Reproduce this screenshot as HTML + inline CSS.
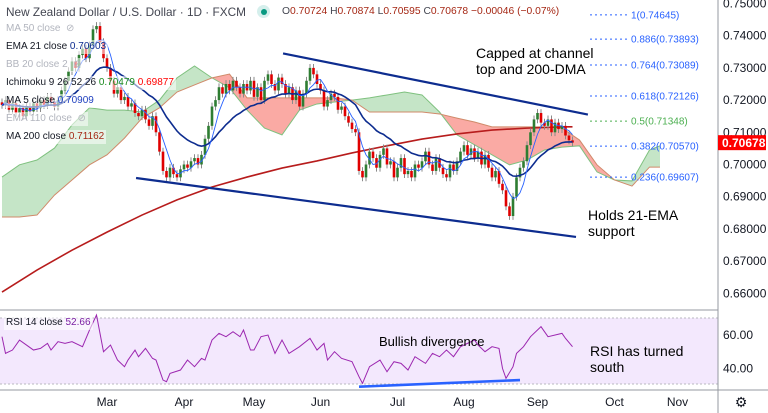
<!DOCTYPE html>
<html><head><meta charset="utf-8"><style>
body{margin:0;background:#fff;font-family:"Liberation Sans",sans-serif;}
#wrap{position:relative;width:768px;height:413px;overflow:hidden;background:#fff}
svg{position:absolute;left:0;top:0}
.lg{position:absolute;left:4px;font-size:10px;color:#131722;white-space:nowrap;background:rgba(255,255,255,0.55);padding:0 2px;line-height:14px}
.fade{color:#b2b5be}
.ann{position:absolute;font-size:14px;color:#000;line-height:16px;white-space:nowrap}
</style></head><body>
<div id="wrap">
<svg id="c" width="768" height="413"></svg>
<div class="lg" style="top:5px;font-size:11.8px;color:#434651;background:none">New Zealand Dollar / U.S. Dollar · 1D · FXCM</div>
<div style="position:absolute;left:257px;top:5px;width:13px;height:13px;border-radius:50%;background:#d5efec"><div style="margin:3.5px;width:6px;height:6px;border-radius:50%;background:#089981"></div></div>
<div class="lg" style="top:5px;left:280px;font-size:10.3px;background:none;color:#a52714"><span style="color:#434651">O</span>0.70724 <span style="color:#434651">H</span>0.70874 <span style="color:#434651">L</span>0.70595 <span style="color:#434651">C</span>0.70678 −0.00046 (−0.07%)</div>
<div class="lg fade" style="top:22px">MA 50 close &nbsp;⊘</div>
<div class="lg" style="top:40px">EMA 21 close <span style="color:#0d2c8f">0.70603</span></div>
<div class="lg fade" style="top:58px">BB 20 close 2 &nbsp;⊘</div>
<div class="lg" style="top:76px">Ichimoku 9 26 52 26 <span style="color:#1b8a1f">0.70479</span> <span style="color:#f00">0.69877</span></div>
<div class="lg" style="top:94px">MA 5 close <span style="color:#1e3fbf">0.70909</span></div>
<div class="lg fade" style="top:112px">EMA 110 close &nbsp;⊘</div>
<div class="lg" style="top:130px">MA 200 close <span style="color:#a52714">0.71162</span></div>
<div class="ann" style="left:476px;top:45px">Capped at channel<br>top and 200-DMA</div>
<div class="ann" style="left:588px;top:207px">Holds 21-EMA<br>support</div>
<div class="ann" style="left:379px;top:334px;font-size:13px">Bullish divergence</div>
<div class="ann" style="left:590px;top:343px">RSI has turned<br>south</div>
<div class="lg" style="top:316px;left:4px">RSI 14 close <span style="color:#7b1fa2">52.66</span></div>
</div>
<script>
const closes=[0.7185,0.7200,0.7170,0.7190,0.7160,0.7175,0.7150,0.7180,0.7165,0.7190,
0.7175,0.7200,0.7185,0.7210,0.7195,0.7180,0.7200,0.7230,0.7260,0.7290,
0.7320,0.7300,0.7340,0.7360,0.7330,0.7370,0.7420,0.7430,0.7380,0.7330,
0.7300,0.7260,0.7220,0.7240,0.7200,0.7210,0.7180,0.7190,0.7160,0.7150,
0.7170,0.7140,0.7120,0.7150,0.7100,0.7040,0.6980,0.6960,0.6990,0.6970,
0.6960,0.6985,0.7000,0.6990,0.7010,0.7020,0.7000,0.7030,0.7080,0.7120,
0.7180,0.7200,0.7240,0.7220,0.7250,0.7230,0.7260,0.7240,0.7220,0.7250,
0.7230,0.7260,0.7210,0.7240,0.7200,0.7260,0.7280,0.7250,0.7230,0.7270,
0.7250,0.7220,0.7240,0.7200,0.7230,0.7180,0.7220,0.7260,0.7300,0.7280,
0.7250,0.7230,0.7180,0.7200,0.7220,0.7210,0.7170,0.7180,0.7150,0.7130,
0.7110,0.7100,0.6980,0.6960,0.7000,0.7040,0.7020,0.6990,0.7030,0.7050,
0.7000,0.7010,0.6960,0.6990,0.7020,0.6970,0.6980,0.6960,0.7000,0.6990,
0.7010,0.7040,0.7000,0.6980,0.7020,0.6990,0.6970,0.6960,0.7000,0.6980,
0.7010,0.7040,0.7060,0.7030,0.7050,0.7020,0.7040,0.7000,0.7030,0.6990,
0.6960,0.6980,0.6940,0.6920,0.6870,0.6840,0.6900,0.6960,0.6990,0.7010,
0.7060,0.7100,0.7140,0.7160,0.7130,0.7120,0.7140,0.7100,0.7130,0.7110,
0.7120,0.7090,0.7075,0.7068];
const spanA=[0.6961,0.6999,0.7014,0.7051,0.7123,0.7176,0.7169,0.7169,0.7163,0.7200,0.7269,0.7306,0.7269,0.7238,0.7169,0.7113,0.7092,0.7169,0.7188,0.7194,0.7200,0.7207,0.7216,0.7225,0.7216,0.7163,0.7092,0.7061,0.7030,0.6999,0.7014,0.7045,0.7054,0.7058,0.6977,0.6952,0.6949,0.7045,0.7058];
const spanB=[0.6837,0.6837,0.6843,0.6905,0.6952,0.6999,0.7030,0.7082,0.7144,0.7176,0.7225,0.7247,0.7269,0.7281,0.7207,0.7207,0.7207,0.7207,0.7207,0.7207,0.7200,0.7163,0.7163,0.7163,0.7163,0.7157,0.7144,0.7132,0.7117,0.7117,0.7117,0.7117,0.7113,0.7076,0.6999,0.6952,0.6933,0.6992,0.6992];
const ma200=[0.6604,0.6672,0.6734,0.6790,0.6843,0.6890,0.6930,0.6961,0.6989,0.7011,0.7036,0.7058,0.7079,0.7095,0.7107,0.7113,0.7117,0.7117];
const rsiBars=[0,1,3,5,7,9,11,13,14,16,18,20,23,25,27,28,29,31,33,35,36,38,39,41,43,44,46,47,48,51,53,55,57,58,60,62,64,66,68,69,71,72,74,76,78,80,82,85,88,90,92,93,95,97,100,102,103,105,108,110,112,114,116,118,121,123,125,127,129,131,133,135,136,138,140,142,143,144,146,147,149,151,154,156,160,161,163];
const rsiVals=[59,49,51,57,54,51,52,55,51,56,55,56,53,63,72,61,50,54,45,41,45,51,47,52,46,45,33,32,37,39,45,41,46,45,57,61,59,62,59,63,51,51,59,60,49,57,49,53,58,51,55,45,50,46,44,35,31,41,45,38,44,43,39,47,43,49,47,51,47,53,55,57,54,50,53,52,40,34,41,49,53,59,65,59,61,58,53];
const priceTicks=[0.75,0.74,0.73,0.72,0.71,0.70,0.69,0.68,0.67,0.66];
const fibRatios=["1","0.886","0.764","0.618","0.5","0.382","0.236"];
const fibPrices=[0.74645,0.73893,0.73089,0.72126,0.71348,0.70570,0.69607];
const months=["Mar","Apr","May","Jun","Jul","Aug","Sep","Oct","Nov"];
const monthBars=[30,52,72,91,113,132,153,175,193];
const channelUpper=[[80.3,0.7345],[167.4,0.7155]];
const channelLower=[[38.3,0.6958],[164,0.6775]];
const divergence=[[102,29],[148,33]];
const lastPrice=0.70678;

const xI=i=>2+i*3.5, yP=p=>3.5+(0.75-p)*3220, yR=v=>351.7-(v-50)*1.667;
const svg=document.getElementById('c'),NS='http://www.w3.org/2000/svg';
function mk(t,a,parent){const e=document.createElementNS(NS,t);for(const k in a)e.setAttribute(k,a[k]);(parent||svg).appendChild(e);return e;}
const defs=mk('defs',{});const cp=mk('clipPath',{id:'mc'},defs);mk('rect',{x:0,y:0,width:718,height:310},cp);
let e=mk('rect',{x:0,y:318,width:718,height:66,fill:'#f3e8fd'});


[318,384].forEach(y=>{const l=mk('line',{x1:0,x2:718,y1:y,y2:y,stroke:'#b8b8c0','stroke-dasharray':'2,2'});

});
[[0,310,718,310],[0,390,768,390],[718,0,718,413]].forEach(s=>{const l=mk('line',{x1:s[0],y1:s[1],x2:s[2],y2:s[3],stroke:'#9598a1','stroke-width':1});

});
const g=mk('g',{'clip-path':'url(#mc)'});


const cloudX=k=>Math.min(xI(k*5),660);
for(let k=0;k<spanA.length-1;k++){
 const x0=cloudX(k),x1=cloudX(k+1);
 const up=(spanA[k]+spanA[k+1])>=(spanB[k]+spanB[k+1]);
 const p=mk('polygon',{points:`${x0},${yP(spanA[k])} ${x1},${yP(spanA[k+1])} ${x1},${yP(spanB[k+1])} ${x0},${yP(spanB[k])}`,fill:up?'rgba(76,175,80,0.32)':'rgba(244,67,54,0.45)'},g);
 
 
}
let pa=spanA.map((v,k)=>`${cloudX(k)},${yP(v)}`).join(' '),pb=spanB.map((v,k)=>`${cloudX(k)},${yP(v)}`).join(' ');
e=mk('polyline',{points:pa,fill:'none',stroke:'#7fc17f','stroke-width':1},g);


e=mk('polyline',{points:pb,fill:'none',stroke:'#d08a6a','stroke-width':1},g);


e=mk('polyline',{points:ma200.map((v,k)=>`${xI(Math.min(k*10,163))},${yP(v)}`).join(' '),fill:'none',stroke:'#b71c1c','stroke-width':1.6},g);


fibPrices.forEach((p,k)=>{const y=yP(p),c=k==4?'#4caf50':'#2962ff';
 const l=mk('line',{x1:590,x2:627,y1:y,y2:y,stroke:c,'stroke-dasharray':'2,3'},g);
 
 
 const t=mk('text',{x:631,y:y+3.5,'font-size':10,fill:c,'font-family':'Liberation Sans'});
 t.textContent=fibRatios[k]+'('+p.toFixed(5)+')';
 
 
});
closes.forEach((c,i)=>{const o=i?closes[i-1]:c+0.0008,up=c>=o,x=xI(i),col=up?'#2e7d32':'#e00000';
 const hi=Math.max(o,c)+0.0012,lo=Math.min(o,c)-0.0012;
 const w=mk('line',{x1:x,x2:x,y1:yP(hi),y2:yP(lo),stroke:'#8a8a8a','stroke-width':1},g);
 
 
 const r=mk('rect',{x:x-1.3,y:yP(Math.max(o,c)),width:2.6,height:Math.max(1,Math.abs(yP(o)-yP(c))),fill:col},g);
 
 
});
let ema=[],a=2/22;closes.forEach((c,i)=>ema.push(i?ema[i-1]+a*(c-ema[i-1]):c));
e=mk('polyline',{points:ema.map((v,i)=>`${xI(i)},${yP(v)}`).join(' '),fill:'none',stroke:'#0d2c8f','stroke-width':1.6},g);


let ma5=closes.map((c,i)=>{const s=closes.slice(Math.max(0,i-4),i+1);return s.reduce((x,y)=>x+y,0)/s.length;});
e=mk('polyline',{points:ma5.map((v,i)=>`${xI(i)},${yP(v)}`).join(' '),fill:'none',stroke:'#2962ff','stroke-width':0.9},g);


[channelUpper,channelLower].forEach(ch=>{const l=mk('line',{x1:xI(ch[0][0]),y1:yP(ch[0][1]),x2:xI(ch[1][0]),y2:yP(ch[1][1]),stroke:'#0d2c8f','stroke-width':2.2},g);
 
 });
priceTicks.forEach(p=>{const t=mk('text',{x:723,y:yP(p)+4,'font-size':12,fill:'#131722','font-family':'Liberation Sans'});t.textContent=p.toFixed(5);
 
 });
e=mk('rect',{x:718,y:yP(lastPrice)-7.5,width:48,height:15,fill:'#f00'});


e=mk('text',{x:722,y:yP(lastPrice)+4.5,'font-size':12,fill:'#fff','font-weight':'bold','font-family':'Liberation Sans'});e.textContent=lastPrice.toFixed(5);


e=mk('polyline',{points:rsiBars.map((b,k)=>`${xI(b)},${yR(rsiVals[k])}`).join(' '),fill:'none',stroke:'#9c27b0','stroke-width':1});


e=mk('line',{x1:xI(divergence[0][0]),y1:yR(divergence[0][1]),x2:xI(divergence[1][0]),y2:yR(divergence[1][1]),stroke:'#2962ff','stroke-width':2.6});


[60,40].forEach(v=>{const t=mk('text',{x:723,y:yR(v)+4,'font-size':12,fill:'#131722','font-family':'Liberation Sans'});t.textContent=v.toFixed(2);
 
 });
months.forEach((m,k)=>{const t=mk('text',{x:xI(monthBars[k]),y:406,'font-size':12,fill:'#131722','text-anchor':'middle','font-family':'Liberation Sans'});t.textContent=m;
 
 });
e=mk('text',{x:741,y:407,'font-size':14,fill:'#131722','text-anchor':'middle','font-family':'DejaVu Sans'});e.textContent='⚙';


</script>
</body></html>
